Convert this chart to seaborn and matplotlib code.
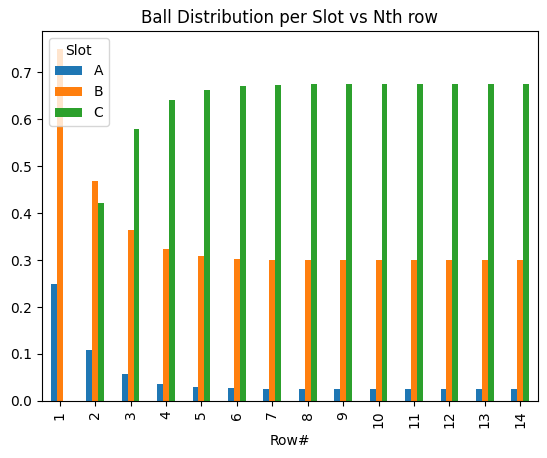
import matplotlib
matplotlib.use("Agg")
import matplotlib.pyplot as plt
import seaborn as sns
import pandas as pd

# values
rows = [str(i) for i in range(1, 15)]
slot_a = [0.250, 0.109, 0.057, 0.036, 0.030, 0.028, 0.026, 0.025, 0.025, 0.025, 0.025, 0.025, 0.025, 0.025]
slot_b = [0.750, 0.469, 0.364, 0.324, 0.309, 0.302, 0.300, 0.300, 0.300, 0.300, 0.300, 0.300, 0.300, 0.300]
slot_c = [0.000, 0.422, 0.579, 0.640, 0.661, 0.670, 0.673, 0.674, 0.675, 0.675, 0.675, 0.675, 0.675, 0.675]
slots = ["A", "B", "C"]

df = pd.DataFrame({"Row#": rows, "A": slot_a, "B": slot_b, "C": slot_c})
long_df = df.melt(id_vars="Row#", value_vars=slots, var_name="Slot", value_name="share")

fig = plt.figure(figsize=(5.47, 4.58), dpi=100)
ax = fig.add_axes([0.0768, 0.1245, 0.9067, 0.8078])

sns.barplot(
    data=long_df, x="Row#", y="share", hue="Slot",
    order=rows, hue_order=slots,
    palette=["#1f77b4", "#ff7f0e", "#2ca02c"],
    saturation=1, width=0.5, gap=0, linewidth=0,
    errorbar=None, ax=ax,
)

ax.set_xlim(-0.5, len(rows) - 0.5)
ax.set_ylim(0, long_df["share"].max() * 1.05)
ax.set_title("Ball Distribution per Slot vs Nth row")
ax.set_xlabel("Row#")
ax.set_ylabel("")
ax.tick_params(axis="x", labelrotation=90)
ax.legend(title="Slot", loc="upper left")

fig.savefig("out.png", dpi=100)
